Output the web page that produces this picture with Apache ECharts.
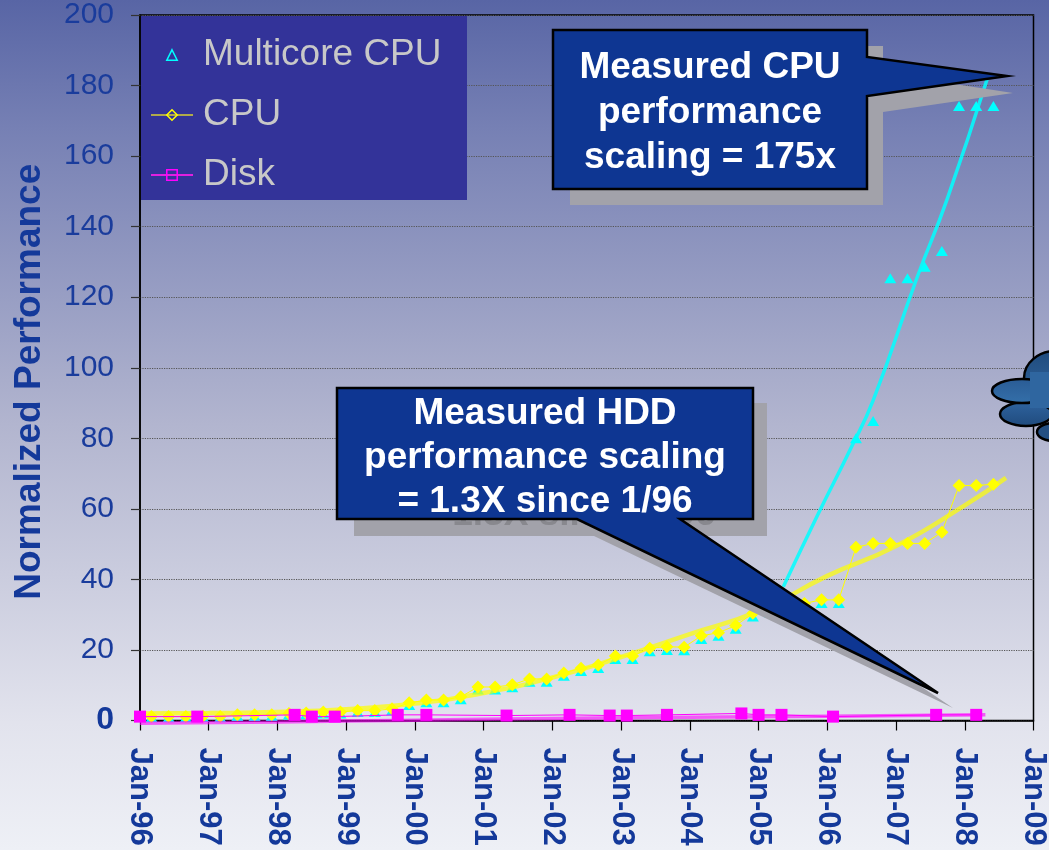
<!DOCTYPE html>
<html><head><meta charset="utf-8">
<script src="https://cdn.jsdelivr.net/npm/echarts@6/dist/echarts.min.js"></script>
<style>html,body{margin:0;padding:0;background:#fff;} #c{width:1049px;height:850px;}</style>
</head><body><div id="c"></div>
<script>
// ---------- data ----------
const xTickLabels = ['Jan-96','Jan-97','Jan-98','Jan-99','Jan-00','Jan-01','Jan-02','Jan-03','Jan-04','Jan-05','Jan-06','Jan-07','Jan-08','Jan-09'];

const cpuDates = [
 '1996-03','1996-06','1996-09','1996-12','1997-03','1997-06','1997-09','1997-12',
 '1998-03','1998-06','1998-09','1998-12','1999-03','1999-06','1999-09','1999-12',
 '2000-03','2000-06','2000-09','2000-12','2001-03','2001-06','2001-09','2001-12',
 '2002-03','2002-06','2002-09','2002-12','2003-03','2003-06','2003-09','2003-12',
 '2004-03','2004-06','2004-09','2004-12','2005-03','2005-06','2005-09','2005-12',
 '2006-03','2006-06','2006-09','2006-12','2007-03','2007-06','2007-09','2007-12',
 '2008-03','2008-06'];
const cpuValues = [
 1.1,1.1,1.1,1.2, 1.1,1.6,1.6,1.6, 2.0,2.1,2.4,2.4, 2.8,2.8,3.3,5.0,
 5.8,5.8,6.7,9.5, 9.5,10.1,11.8,11.8, 13.5,14.8,15.7,18.3, 18.3,20.5,20.9,20.8,
 24.0,24.9,26.9,30.4, 31.5,32.5,33.2,34.2, 34.2,49.1,50.2,50.2, 50.2,50.2,53.4,66.6,
 66.6,67.0];
const multicoreValues = [
 0.9,0.9,0.9,1.0, 0.9,1.3,1.3,1.3, 1.7,1.8,2.0,2.0, 2.4,2.4,2.8,4.4,
 5.2,5.2,6.0,8.8, 8.8,9.4,11.0,11.0, 12.7,14.0,14.9,17.4, 17.4,19.6,20.0,19.9,
 23.1,24.0,26.0,29.5, 30.6,31.6,32.3,33.3, 33.3,80.0,84.9,125.4, 125.4,128.6,133.1,174.2,
 174.2,174.2];
const diskDates = ['1996-01','1996-11','1998-04','1998-07','1998-11','1999-10','2000-03','2001-05','2002-04',
 '2002-11','2003-02','2003-09','2004-10','2005-01','2005-05','2006-02','2007-08','2008-03'];
const diskValues = [1.1,1.1,1.6,1.1,1.1,1.6,1.6,1.4,1.6,1.4,1.4,1.6,2.0,1.6,1.6,1.1,1.6,1.6];

// trend lines as drawn in the picture
const cpuTrendYears = [1996.0,1997.0,1998.0,1999.0,2000.0,2001.0,2002.0,2003.0,2004.0,2005.0,2006.0,2007.0,2008.0,2008.6];
const cpuTrendValues = [2.0,2.1,2.4,3.2,4.8,7.8,12.2,18.0,24.5,31.0,41.0,49.5,61.0,68.8];
const multicoreTrendYears = [2005.36,2005.87,2006.33,2006.67,2007.31,2007.74,2008.34];
const multicoreTrendValues = [37.9,58.7,76.7,90.9,125.8,147.6,182.7];
const diskTrendYears = [1996.0,1998.0,2000.0,2002.0,2004.0,2006.0,2008.3];
const diskTrendValues = [-0.8,-0.4,0.1,0.6,0.9,1.2,1.6];

// ---------- helpers ----------
function decYear(s){ const [y,m]=s.split('-').map(Number); return y+(m-1)/12; }
function pairs(xs, ys){ return xs.map((x,i)=>[typeof x==='string'?decYear(x):x, ys[i]]); }

const navy = '#14399a';
const font = "'Liberation Sans', Arial, sans-serif";

const chart = echarts.init(document.getElementById('c'), null, {renderer:'canvas'});

function calloutText(lines, cx, cy, lh){
  return {type:'text', x:cx, y:cy, z:102, silent:true,
    style:{text:lines.join('\n'), fill:'#ffffff', font:'bold 37px '+font, align:'center', verticalAlign:'middle', lineHeight:lh}};
}

const option = {
  backgroundColor: {type:'linear', x:0, y:0, x2:0, y2:1, colorStops:[
    {offset:0, color:'#5865a5'},{offset:0.15, color:'#7680b4'},{offset:0.5, color:'#b2b5cf'},
    {offset:0.85, color:'#e2e3ed'},{offset:1, color:'#eef0f6'}]},
  animation:false,
  grid:{left:140, right:5, top:15, bottom:129.5, show:true, borderColor:'#000', borderWidth:1.5, backgroundColor:'transparent'},
  legend:{
    orient:'vertical', left:145, top:30, itemWidth:42, itemHeight:13, itemGap:20,
    textStyle:{color:'#c8c8c8', fontSize:37, fontFamily:font, lineHeight:40, padding:[0,0,0,5]},
    data:[
      {name:'Multicore CPU', itemStyle:{color:'transparent', borderColor:'#00ffff', borderWidth:1.5}, lineStyle:{opacity:0}},
      {name:'CPU', itemStyle:{color:'transparent', borderColor:'#ffff00', borderWidth:1.5}, lineStyle:{color:'#b0aa4a', width:2}},
      {name:'Disk', itemStyle:{color:'transparent', borderColor:'#ff00ff', borderWidth:1.5}, lineStyle:{color:'#e020e0', width:2}}
    ]
  },
  xAxis:{
    type:'value', min:1996, max:2009, interval:1,
    axisLine:{show:true, onZero:false, lineStyle:{color:'#000', width:1.5}},
    axisTick:{show:true, inside:false, length:10, lineStyle:{color:'#000', width:1.2}},
    splitLine:{show:false},
    axisLabel:{rotate:-90, margin:27, color:navy, fontSize:31, fontWeight:'bold', fontFamily:font,
      formatter:(v)=>xTickLabels[Math.round(v-1996)]}
  },
  yAxis:{
    type:'value', min:0, max:200, interval:20,
    name:'Normalized Performance', nameLocation:'middle', nameGap:92, nameRotate:90,
    nameTextStyle:{color:navy, fontSize:37, fontWeight:'bold', fontFamily:font, padding:[0,28,0,0]},
    axisLine:{show:true, lineStyle:{color:'#000', width:1.5}},
    axisTick:{show:true, inside:false, length:9, lineStyle:{color:'#333', width:1.2}},
    splitLine:{show:true, lineStyle:{color:'#555', type:'dotted', width:1.2}},
    axisLabel:{margin:26, color:'#1a3c9c', fontSize:30, fontFamily:font,
      formatter:(v)=> v===0 ? '{z|0}' : String(v),
      rich:{z:{fontSize:32, fontWeight:'bold', color:navy, fontFamily:font}}}
  },
  series:[
    {name:'Multicore CPU', type:'line', data:pairs(cpuDates, multicoreValues), z:2,
      symbol:'triangle', symbolSize:[12,10], lineStyle:{opacity:0, width:0},
      itemStyle:{color:'#00ffff'}},
    {name:'CPU', type:'line', data:pairs(cpuDates, cpuValues), z:3,
      symbol:'diamond', symbolSize:13, lineStyle:{color:'#ffff00', width:1},
      itemStyle:{color:'#ffff00'}},
    {name:'Multicore trend', type:'line', data:pairs(multicoreTrendYears, multicoreTrendValues), z:4,
      smooth:true, symbol:'none', lineStyle:{color:'#00ffff', width:3.5, opacity:0.85}},
    {name:'CPU trend', type:'line', data:pairs(cpuTrendYears, cpuTrendValues), z:4,
      smooth:true, symbol:'none', lineStyle:{color:'#ffff00', width:4.5, opacity:0.7}},
    {name:'Disk', type:'line', data:pairs(diskDates, diskValues), z:5,
      symbol:'rect', symbolSize:12, lineStyle:{color:'#ff00ff', width:1},
      itemStyle:{color:'#ff00ff'}},
    {name:'Disk trend', type:'line', data:pairs(diskTrendYears, diskTrendValues), z:5, clip:false,
      smooth:true, symbol:'none', lineStyle:{color:'#ff00ff', width:3.5, opacity:0.6}}
  ],
  graphic:[
    // legend box
    {type:'rect', shape:{x:141, y:16, width:326, height:184}, style:{fill:'#333399'}, z:1, silent:true},
    // CPU callout shadow
    {type:'polygon', z:100, silent:true, shape:{points:[[570,46],[883,46],[883,73],[1013,93],[883,112],[883,205],[570,205]]},
      style:{fill:'#a2a2aa'}},
    // CPU callout
    {type:'polygon', z:101, silent:true, shape:{points:[[553,30],[867,30],[867,57],[1007,76],[867,96],[867,189],[553,189]]},
      style:{fill:'#0e3692', stroke:'#000', lineWidth:2.5, lineJoin:'miter'}},
    calloutText(['Measured CPU','performance','scaling = 175x'], 710, 113, 45),
    // HDD callout shadow
    {type:'polygon', z:100, silent:true, shape:{points:[[354,403],[767,403],[767,536],[697,536],[953,708],[594,536],[354,536]]},
      style:{fill:'#a2a2aa'}},
    {type:'text', x:568, y:515, z:100, silent:true,
      style:{text:'= 1.3X since 1/96', fill:'#88888e', font:'bold 37px '+font, align:'center', verticalAlign:'middle'}},
    // HDD callout
    {type:'polygon', z:101, silent:true, shape:{points:[[337,388],[753,388],[753,519],[680,519],[938,693],[577,519],[337,519]]},
      style:{fill:'#0e3692', stroke:'#000', lineWidth:2.5, lineJoin:'miter'}},
    calloutText(['Measured HDD','performance scaling','= 1.3X since 1/96'], 545, 458, 44),
    // cloud at right edge
    {type:'group', z:50, silent:true, children:[
      {type:'ellipse', z:50, shape:{cx:1056, cy:378, rx:32, ry:27},
        style:{fill:{type:'linear',x:0,y:0,x2:0,y2:1,colorStops:[{offset:0,color:'#1f4a7c'},{offset:1,color:'#336aa3'}]}, stroke:'#000', lineWidth:2.5}},
      {type:'ellipse', z:50, shape:{cx:1026, cy:414, rx:26, ry:12},
        style:{fill:{type:'linear',x:0,y:0,x2:0,y2:1,colorStops:[{offset:0,color:'#2f64a0'},{offset:1,color:'#1f4a7c'}]}, stroke:'#000', lineWidth:2.5}},
      {type:'ellipse', z:50, shape:{cx:1054, cy:432, rx:17, ry:9},
        style:{fill:'#234f82', stroke:'#000', lineWidth:2.5}},
      {type:'ellipse', z:50, shape:{cx:1022, cy:391, rx:30, ry:12},
        style:{fill:{type:'linear',x:0,y:0,x2:0,y2:1,colorStops:[{offset:0,color:'#2a5b94'},{offset:1,color:'#3470aa'}]}, stroke:'#000', lineWidth:2.5}},
      {type:'rect', z:50, shape:{x:1030, y:372, width:25, height:36}, style:{fill:'#2f66a0'}}
    ]}
  ]
};
chart.setOption(option);
</script>
</body></html>
